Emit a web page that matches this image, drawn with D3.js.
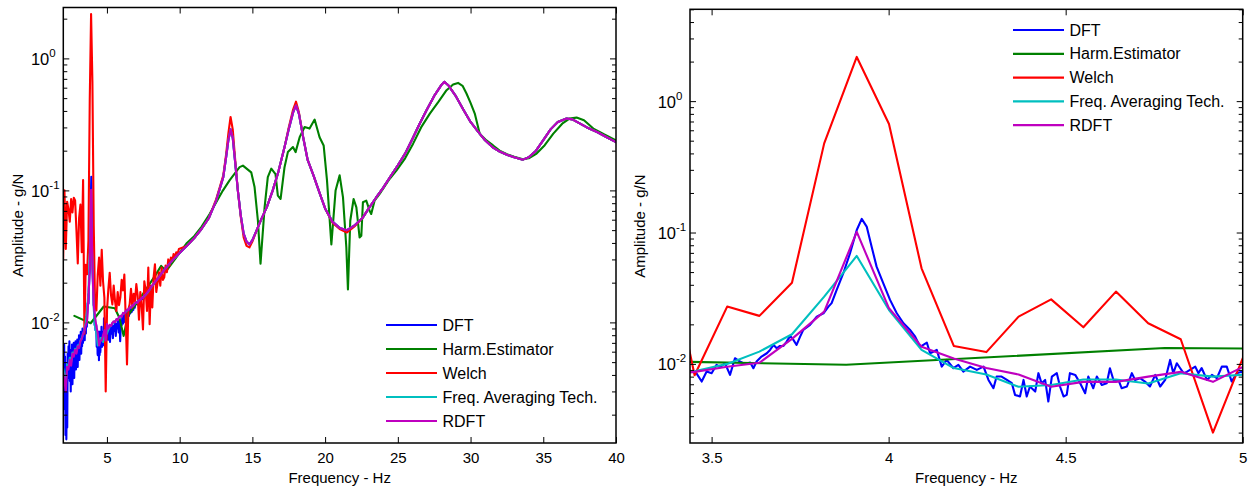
<!DOCTYPE html>
<html><head><meta charset="utf-8">
<script src="https://cdn.jsdelivr.net/npm/d3@7"></script>
<style>body{margin:0;background:#fff} svg{display:block} text{font-family:"Liberation Sans",Arial,sans-serif;fill:#000}</style>
</head><body><svg id="c" width="1252" height="492"></svg>
<script>
// ---------------- DATA ----------------
const seriesNames = ["DFT", "Harm.Estimator", "Welch", "Freq. Averaging Tech.", "RDFT"];
const seriesColors = ["#0000ff", "#008000", "#ff0000", "#00bfbf", "#bf00bf"];

const leftFreqTicks = [5, 10, 15, 20, 25, 30, 35, 40];
const rightFreqTicks = [3.5, 4, 4.5, 5];
const ampMajorTicks = [1, 0.1, 0.01];
const ampTickExponents = ["0", "-1", "-2"];

// frequency bins (Hz) used by Welch / FAT / RDFT at low frequency
const binFreq = [1.989,2.080,2.172,2.263,2.355,2.446,2.538,2.629,2.721,2.812,2.904,2.995,3.087,3.178,3.270,3.361,3.452,3.544,3.635,3.727,3.818,3.910,4.001,4.093,4.184,4.276,4.367,4.459,4.550,4.642,4.733,4.825,4.916,5.008,5.099,5.191,5.282,5.374,5.465,5.557,5.648,5.740,5.831,5.923,6.014,6.106,6.197,6.289,6.380,6.472,6.563,6.655,6.746,6.838,6.929,7.021,7.112,7.204,7.295,7.387,7.478,7.570,7.661,7.753,7.844,7.936,8.027,8.119,8.210,8.302,8.393,8.485,8.576,8.668,8.759,8.851,8.942,9.034,9.125,9.217,9.308,9.400,9.491,9.583,9.674,9.766,9.857,9.949];

const welchLowAmp = [0.030,0.100,0.036,0.082,0.072,0.058,0.086,0.068,0.088,0.084,0.050,0.028,0.062,0.078,0.034,0.120,0.0082,0.0273,0.0232,0.0415,0.477,2.17,0.669,0.0534,0.0137,0.0123,0.0229,0.031,0.019,0.0355,0.0204,0.0154,0.0030,0.0125,
0.018,0.0238,0.016,0.0137,0.019,0.0145,0.0122,0.017,0.0135,0.0155,0.021,0.0175,0.023,0.011,0.0048,0.0125,0.0137,0.018,0.013,0.0165,0.0145,0.0195,0.016,0.0105,0.017,0.0135,0.00885,0.0205,0.0175,0.0122,0.026,0.0097,0.019,0.013,0.022,0.0276,0.017,0.020,0.024,0.019,0.026,0.021,0.022,0.027,0.024,0.030,0.027,0.031,0.029,0.033,0.031,0.034,0.033,0.036];

const fatLowAmp = [0.0045,0.0040,0.0034,0.0048,0.0046,0.0054,0.0050,0.0059,0.0057,0.0063,0.0060,0.0067,0.0066,0.0073,0.0076,0.0082,0.0088,0.0100,0.0124,0.0168,0.0325,0.0663,0.0257,0.0128,0.0093,0.0083,0.0067,0.0069,0.0076,0.0076,0.0071,0.0085,0.0080,0.0083,
0.0088,0.0093,0.0095,0.0098,0.0100,0.0102,0.0104,0.0106,0.0108,0.0111,0.0113,0.0116,0.0118,0.0121,0.0123,0.0126,0.0128,0.0131,0.0133,0.0136,0.0139,0.0141,0.0144,0.0147,0.0149,0.0152,0.0155,0.0158,0.0162,0.0166,0.0171,0.0177,0.0184];

const rdftLowAmp = [0.0042,0.0036,0.0030,0.0046,0.0044,0.0052,0.0047,0.0058,0.0055,0.0062,0.0058,0.0066,0.0064,0.0072,0.0075,0.0082,0.0087,0.0095,0.0102,0.0155,0.025,0.101,0.0265,0.0135,0.0110,0.0093,0.0083,0.0067,0.0073,0.0073,0.0080,0.0087,0.0073,0.0097,
0.0090,0.0096,0.0094,0.0099,0.0102,0.0100,0.0106,0.0104,0.0110,0.0112,0.0110,0.0118,0.0117,0.0122,0.0125,0.0124,0.0130,0.0129,0.0135,0.0134,0.0140,0.0142,0.0141,0.0148,0.0147,0.0154,0.0153,0.0160,0.0162,0.0168,0.0172,0.0178,0.0185];

// smooth part above ~8.5 Hz shared by DFT / FAT / RDFT
const smoothFreq = [8.5,9.0,9.5,10.0,10.5,11.0,11.5,12.0,12.5,13.0,13.2,13.35,13.5,13.65,13.8,14.0,14.2,14.4,14.6,14.8,15.0,15.3,15.6,16.0,16.4,16.8,17.2,17.5,17.8,18.0,18.2,18.5,18.8,19.2,19.6,20.0,20.5,21.0,21.5,22.0,22.6,23.0,23.5,24.0,24.5,25.0,25.5,26.0,26.5,27.0,27.5,28.0,28.2,28.5,29.0,29.5,30.0,30.5,31.0,31.5,32.0,32.5,33.0,33.6,34.0,34.5,35.0,35.5,36.0,36.6,37.0,37.5,38.0,38.7,39.3,40.0];
const smoothAmp = [0.0215,0.0255,0.0295,0.0335,0.038,0.0435,0.051,0.0615,0.083,0.126,0.18,0.24,0.29,0.25,0.17,0.1,0.065,0.047,0.041,0.039,0.042,0.05,0.06,0.075,0.10,0.14,0.21,0.29,0.39,0.44,0.38,0.25,0.17,0.13,0.097,0.073,0.058,0.052,0.050,0.054,0.0624,0.073,0.088,0.105,0.128,0.155,0.19,0.245,0.32,0.41,0.52,0.63,0.665,0.62,0.515,0.41,0.33,0.28,0.24,0.213,0.197,0.186,0.178,0.171,0.178,0.20,0.24,0.29,0.33,0.35,0.345,0.322,0.30,0.277,0.255,0.232];

const welchHighFreq = [10.5,11.0,11.5,12.0,12.5,13.0,13.2,13.35,13.5,13.65,13.8,14.0,14.2,14.4,14.6,14.8,15.0,15.3,15.6,16.0,16.4,16.8,17.2,17.5,17.8,18.0,18.2,18.5,18.8,19.2,19.6,20.0,20.5,21.0,21.5,22.0,22.6,23.0,23.5,24.0,24.5,25.0,25.5,26.0,26.5,27.0,27.5,28.0,28.2,28.5,29.0,29.5,30.0,30.5,31.0,31.5,32.0,32.5,33.0,33.6,34.0,34.5,35.0,35.5,36.0,36.6,37.0,37.5,38.0,38.7,39.3,40.0];
const welchHighAmp = [0.038,0.0435,0.051,0.0615,0.085,0.13,0.19,0.27,0.36,0.29,0.18,0.1,0.063,0.044,0.038,0.037,0.041,0.05,0.06,0.075,0.10,0.14,0.21,0.30,0.41,0.47,0.39,0.25,0.17,0.13,0.097,0.073,0.057,0.051,0.048,0.053,0.0624,0.073,0.088,0.105,0.128,0.155,0.19,0.245,0.32,0.41,0.52,0.63,0.665,0.62,0.515,0.41,0.33,0.28,0.24,0.213,0.197,0.186,0.178,0.171,0.178,0.20,0.24,0.29,0.33,0.35,0.345,0.322,0.30,0.277,0.255,0.232];

const harmFreq = [2.76,3.88,4.78,5.55,5.86,6.15,6.43,7.46,8.38,8.73,9.07,9.76,10.5,11.0,11.5,12.05,12.97,13.43,14.12,14.35,14.92,15.15,15.38,15.56,15.84,16.06,16.30,16.59,16.75,16.94,17.21,17.44,17.79,17.97,18.25,18.59,18.93,19.28,19.62,19.9,20.13,20.43,20.72,21.0,21.23,21.46,21.57,21.73,21.96,22.15,22.37,22.49,22.6,22.83,23.06,23.17,23.40,23.75,24.43,24.9,25.5,26.05,26.6,27.2,27.8,28.35,28.8,29.14,29.45,29.72,30.0,30.29,30.63,31.09,31.55,32.0,32.5,33.0,33.6,34.0,34.54,35.1,35.69,36.3,36.8,37.29,37.8,38.44,39.2,40.0];
const harmAmp = [0.0112,0.00985,0.0132,0.0128,0.0108,0.0079,0.0112,0.0163,0.0232,0.0268,0.0245,0.031,0.040,0.045,0.053,0.066,0.0997,0.119,0.15,0.154,0.137,0.106,0.0589,0.0279,0.0744,0.126,0.146,0.133,0.0912,0.0861,0.15,0.195,0.213,0.195,0.253,0.302,0.294,0.344,0.253,0.219,0.119,0.039,0.0997,0.13,0.0886,0.0369,0.0178,0.0589,0.0861,0.0744,0.044,0.0453,0.0813,0.0836,0.0702,0.0663,0.0836,0.094,0.122,0.141,0.175,0.226,0.30,0.382,0.47,0.574,0.635,0.652,0.62,0.542,0.46,0.382,0.269,0.239,0.219,0.2,0.188,0.18,0.172,0.175,0.19,0.22,0.269,0.32,0.35,0.356,0.34,0.294,0.265,0.239];

// DFT, fine resolution up to 8 Hz: [Hz, g/N]
const dftLow = [
[2.000,0.0062],[2.030,0.0035],[2.060,0.0068],[2.090,0.0022],[2.120,0.0055],[2.150,0.0014],[2.180,0.0040],[2.210,0.0013],[2.240,0.0030],[2.270,0.0016],
[2.300,0.0058],[2.330,0.0038],[2.360,0.0066],[2.390,0.0042],[2.420,0.0072],[2.450,0.0036],[2.480,0.0062],[2.510,0.0030],[2.540,0.0055],[2.570,0.0040],
[2.600,0.0068],[2.630,0.0034],[2.660,0.0060],[2.690,0.0045],[2.720,0.0070],[2.750,0.0038],[2.780,0.0064],[2.810,0.0048],[2.840,0.0072],[2.870,0.0044],
[2.900,0.0066],[2.930,0.0050],[2.960,0.0074],[2.990,0.0046],[3.020,0.0068],[3.050,0.0055],[3.080,0.0080],[3.110,0.0052],[3.140,0.0074],[3.170,0.0060],
[3.200,0.0085],[3.230,0.0058],[3.260,0.0078],[3.290,0.0066],[3.320,0.0090],[3.350,0.0070],[3.380,0.0088],[3.410,0.0078],
[3.439,0.00874],[3.456,0.00859],[3.472,0.00734],[3.486,0.00874],[3.500,0.00850],[3.514,0.00983],[3.524,0.00944],[3.538,0.01012],[3.552,0.00825],[3.566,0.01105],
[3.580,0.01042],[3.594,0.0100],[3.609,0.01023],[3.618,0.00927],[3.627,0.01042],[3.641,0.01137],[3.656,0.01205],[3.665,0.01277],[3.675,0.01394],[3.684,0.01316],
[3.693,0.0137],[3.703,0.0137],[3.712,0.01479],[3.722,0.01633],[3.731,0.01523],[3.740,0.01394],[3.750,0.01614],[3.759,0.01815],[3.778,0.01981],[3.797,0.02290],
[3.816,0.02428],[3.830,0.02729],[3.839,0.029],[3.853,0.0365],[3.872,0.049],[3.891,0.0695],[3.910,0.1045],[3.924,0.127],[3.938,0.111],[3.952,0.078],
[3.966,0.055],[3.985,0.041],[4.004,0.0307],[4.023,0.0243],[4.042,0.0204],[4.060,0.0182],[4.075,0.0161],[4.089,0.0135],[4.108,0.0145],[4.117,0.01205],
[4.136,0.01277],[4.150,0.00954],[4.164,0.01072],[4.183,0.00927],[4.197,0.00983],[4.211,0.00874],[4.230,0.00954],[4.249,0.0090],[4.268,0.00954],[4.282,0.00755],
[4.296,0.00653],[4.305,0.00801],[4.319,0.00801],[4.334,0.00755],[4.348,0.00713],[4.357,0.00581],[4.371,0.00565],[4.381,0.00755],[4.390,0.00565],[4.399,0.00673],
[4.414,0.00616],[4.423,0.00850],[4.432,0.00713],[4.442,0.00755],[4.451,0.00517],[4.461,0.00801],[4.475,0.00850],[4.484,0.00673],[4.494,0.00565],[4.503,0.00581],
[4.512,0.00850],[4.527,0.00825],[4.541,0.00713],[4.555,0.00598],[4.564,0.00801],[4.578,0.00653],[4.588,0.00801],[4.602,0.00692],[4.616,0.00713],[4.625,0.00927],
[4.635,0.00755],[4.649,0.00755],[4.658,0.00653],[4.673,0.00673],[4.687,0.00850],[4.696,0.00755],[4.710,0.00778],[4.724,0.00734],[4.738,0.00673],[4.753,0.00825],
[4.767,0.00673],[4.781,0.00755],[4.795,0.01072],[4.804,0.00850],[4.814,0.01012],[4.823,0.0093],[4.833,0.0085],[4.842,0.0087],[4.851,0.0090],[4.866,0.00954],
[4.875,0.0085],[4.884,0.0093],[4.899,0.00755],[4.913,0.00825],[4.927,0.00778],[4.941,0.00954],[4.955,0.00954],[4.969,0.00734],[4.983,0.0085],[4.997,0.0087],
[5.01,0.0080],[5.06,0.0092],[5.11,0.0074],[5.16,0.0088],[5.21,0.0071],[5.26,0.0095],[5.31,0.0082],[5.36,0.0098],[5.41,0.0076],[5.46,0.0094],
[5.51,0.0086],[5.56,0.0102],[5.61,0.0079],[5.66,0.0097],[5.71,0.0090],[5.76,0.0104],[5.81,0.0084],[5.86,0.0106],[5.91,0.0072],[5.96,0.0100],
[6.01,0.0095],[6.06,0.0110],[6.11,0.0098],[6.16,0.0112],[6.21,0.0101],[6.26,0.0118],[6.31,0.0104],[6.36,0.0117],[6.41,0.0108],[6.46,0.0124],
[6.51,0.0112],[6.56,0.0126],[6.61,0.0117],[6.66,0.0129],[6.71,0.0120],[6.76,0.0133],[6.81,0.0124],[6.86,0.0136],[6.91,0.0129],[6.96,0.0140],
[7.1,0.0137],[7.2,0.0146],[7.3,0.0142],[7.4,0.0152],[7.5,0.0150],[7.6,0.0160],[7.7,0.0158],[7.8,0.0170],[7.9,0.0172],[8.0,0.0182]];

// ---------------- BUILD SERIES ----------------
const zip = (f, a) => f.slice(0, Math.min(f.length, a.length)).map((v, i) => [v, a[i]]);
const smooth = zip(smoothFreq, smoothAmp);
const seriesPoints = [
  dftLow.concat(smooth),
  zip(harmFreq, harmAmp),
  zip(binFreq, welchLowAmp).concat(zip(welchHighFreq, welchHighAmp)),
  zip(binFreq, fatLowAmp).concat(smooth),
  zip(binFreq, rdftLowAmp).concat(smooth)
];
const series = seriesNames.map((n, i) => ({name: n, color: seriesColors[i], points: seriesPoints[i]}));

// ---------------- DRAW ----------------
const svg = d3.select("#c");
const defs = svg.append("defs");

function panel(p) {
  const x = d3.scaleLinear().domain(p.xDomain).range([p.left, p.right]);
  const y = d3.scaleLog().domain(p.yDomain).range([p.bottom, p.top]);
  const g = svg.append("g");
  defs.append("clipPath").attr("id", "clip" + p.id).append("rect")
    .attr("x", p.left).attr("y", p.top).attr("width", p.right - p.left).attr("height", p.bottom - p.top);

  const line = d3.line().x(d => x(d[0])).y(d => y(d[1]));
  const plot = g.append("g").attr("clip-path", `url(#clip${p.id})`);
  series.forEach(s => {
    plot.append("path").datum(s.points).attr("d", line)
      .attr("fill", "none").attr("stroke", s.color).attr("stroke-width", 2.1)
      .attr("stroke-linejoin", "round").attr("stroke-linecap", "round");
  });

  // x axes (bottom labelled, top ticks only), ticks pointing inward
  const xb = g.append("g").attr("transform", `translate(0,${p.bottom})`)
    .call(d3.axisBottom(x).tickValues(p.xTicks).tickSizeInner(-6).tickSizeOuter(0).tickPadding(9).tickFormat(d3.format("")));
  const xt = g.append("g").attr("transform", `translate(0,${p.top})`)
    .call(d3.axisTop(x).tickValues(p.xTicks).tickSizeInner(-6).tickSizeOuter(0).tickFormat(""));
  [xb, xt].forEach(a => {
    a.select(".domain").remove();
    a.selectAll("line").attr("stroke", "#000").attr("stroke-width", 1);
    a.selectAll("text").attr("font-size", 15).attr("font-family", '"Liberation Sans",Arial,sans-serif').attr("fill", "#000");
  });

  // y axis: major + minor log ticks on both sides
  const [y0, y1] = p.yDomain;
  const minor = [];
  for (let e = Math.floor(Math.log10(y0)); e <= Math.ceil(Math.log10(y1)); e++) {
    for (let k = 2; k <= 9; k++) {
      const v = k * Math.pow(10, e);
      if (v >= y0 && v <= y1) minor.push(v);
    }
  }
  const yMajor = ampMajorTicks.filter(v => v >= y0 && v <= y1);
  const yl = d3.axisRight(y).tickValues(yMajor).tickSizeInner(6).tickSizeOuter(0).tickFormat("");
  const ylm = d3.axisRight(y).tickValues(minor).tickSizeInner(4).tickSizeOuter(0).tickFormat("");
  const yr = d3.axisLeft(y).tickValues(yMajor).tickSizeInner(6).tickSizeOuter(0).tickFormat("");
  const yrm = d3.axisLeft(y).tickValues(minor).tickSizeInner(4).tickSizeOuter(0).tickFormat("");
  [[yl, p.left], [ylm, p.left], [yr, p.right], [yrm, p.right]].forEach(([ax, xx]) => {
    const a = g.append("g").attr("transform", `translate(${xx},0)`).call(ax);
    a.select(".domain").remove();
    a.selectAll("line").attr("stroke", "#000").attr("stroke-width", 1);
  });

  // y tick labels 10^e
  const lab = g.append("g");
  ampMajorTicks.forEach((v, i) => {
    if (v < y0 || v > y1) return;
    const yy = y(v);
    lab.append("text").attr("x", p.left - 14).attr("y", yy + 6.5)
      .attr("text-anchor", "end").attr("font-size", 16.5).text("10");
    lab.append("text").attr("x", p.left - 14).attr("y", yy - 1.5)
      .attr("text-anchor", "start").attr("font-size", 11.5).text(ampTickExponents[i]);
  });

  // frame
  g.append("rect").attr("x", p.left).attr("y", p.top)
    .attr("width", p.right - p.left).attr("height", p.bottom - p.top)
    .attr("fill", "none").attr("stroke", "#000").attr("stroke-width", 1.5);

  // axis titles
  g.append("text").attr("x", (p.left + p.right) / 2).attr("y", 483)
    .attr("text-anchor", "middle").attr("font-size", 15).text("Frequency - Hz");
  g.append("text").attr("transform", `translate(${p.yLabelX},${(p.top + p.bottom) / 2}) rotate(-90)`)
    .attr("text-anchor", "middle").attr("font-size", 15).text("Amplitude - g/N");

  // legend
  const lg = g.append("g");
  series.forEach((s, i) => {
    const yy = p.legendY + i * p.legendStep;
    lg.append("line").attr("x1", p.legendX).attr("x2", p.legendX + 51).attr("y1", yy).attr("y2", yy)
      .attr("stroke", s.color).attr("stroke-width", 2.2);
    lg.append("text").attr("x", p.legendX + 56.5).attr("y", yy + 5.6).attr("font-size", 16).text(s.name);
  });
}

panel({id: "L", left: 63.3, right: 616, top: 7.5, bottom: 443,
  xDomain: [2, 40], yDomain: [0.00122, 2.43], xTicks: leftFreqTicks,
  yLabelX: 23, legendX: 386, legendY: 325, legendStep: 24});
panel({id: "R", left: 690, right: 1242.7, top: 9.3, bottom: 443,
  xDomain: [3.439, 5], yDomain: [0.0025, 5], xTicks: rightFreqTicks,
  yLabelX: 645, legendX: 1013, legendY: 30, legendStep: 23.8});
</script></body></html>
